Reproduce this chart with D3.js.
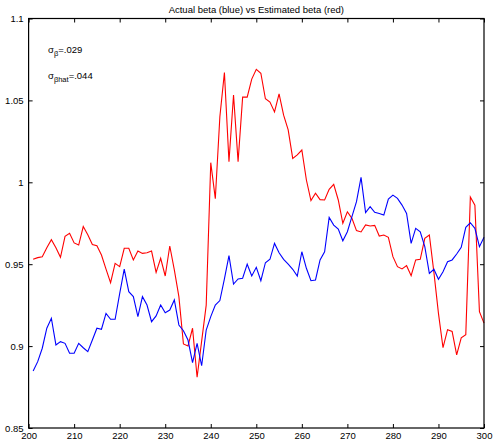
<!DOCTYPE html>
<html>
<head>
<meta charset="utf-8">
<script src="https://cdn.jsdelivr.net/npm/d3@7"></script>
<style>
  body { margin: 0; background: #fff; }
  svg text { font-family: "Liberation Sans", Arial, sans-serif; }
</style>
</head>
<body>
<svg id="chart" width="494" height="440"></svg>
<script>
var periods = d3.range(201, 301);

var actualBeta = [
  .8848, .8905, .8987, .9109, .917, .9007, .9027, .9017, .8956, .8956,
  .9017, .899, .8966, .9037, .9109, .9103, .920, .9164, .9164, .932,
  .947, .9332, .9302, .918, .9302, .9251, .9149, .9184, .9251, .9204,
  .922, .9282, .9129, .9094, .9037, .8899, .9017, .888, .9098, .918,
  .9251, .9278, .941, .9552, .9379, .941, .9414, .950, .9428, .9481,
  .9399, .9509, .953, .9627, .957, .953, .9501, .9469, .9428, .9576,
  .9475, .9399, .9404, .9526, .9576, .9786, .9739, .9715, .9643, .9698,
  .979, .9882, 1.003, .9815, .9851, .9817, .981, .980, .9898, .9922,
  .9902, .9861, .981, .9627, .9719, .9698, .9607, .9444, .9469, .9408,
  .9454, .9515, .9526, .9562, .9603, .9725, .9753, .9719, .9607, .9664
];

var estimatedBeta = [
  .953, .954, .9546, .960, .965, .960, .9542, .967, .9689, .963,
  .9617, .973, .968, .962, .9613, .9556, .947, .9387, .9505, .9485,
  .9597, .9597, .9526, .9581, .9566, .957, .958, .945, .9536, .9428,
  .9611, .9465, .9302, .9013, .9001, .9109, .881, .903, .925, 1.012,
  .990, 1.040, 1.067, 1.0126, 1.0533, 1.0126, 1.052, 1.052, 1.063, 1.069,
  1.0666, 1.051, 1.049, 1.043, 1.054, 1.041, 1.032, 1.0146, 1.0167, 1.0197,
  1.0014, .9888, .9933, .9894, .9892, .9957, .9988, .9892, .975, .982,
  .978, .9705, .9697, .974, .9733, .9737, .9672, .9678, .9664, .9546,
  .9485, .9471, .9491, .943, .9526, .953, .9658, .9678, .945, .920,
  .899, .910, .909, .8946, .905, .907, .991, .986, .921, .914
];

var xTicks = d3.range(200, 301, 10);
var yTicks = [0.85, 0.9, 0.95, 1, 1.05, 1.1];
var title = "Actual beta (blue) vs Estimated beta (red)";

var margin = {top: 18.5, right: 10, bottom: 12, left: 28.6},
  width = 484 - margin.left,
  height = 428 - margin.top;

var x = d3.scaleLinear().domain([200, 300]).range([0, width]);
var y = d3.scaleLinear().domain([0.85, 1.1]).range([height, 0]);

var svg = d3.select("#chart");
var g = svg.append("g")
  .attr("transform", "translate(" + margin.left + "," + margin.top + ")");

var line = d3.line()
  .x((d, i) => x(periods[i]))
  .y(d => y(d));

g.append("path")
  .datum(estimatedBeta)
  .attr("fill", "none")
  .attr("stroke", "#ff0000")
  .attr("stroke-width", 1.1)
  .attr("d", line);

g.append("path")
  .datum(actualBeta)
  .attr("fill", "none")
  .attr("stroke", "#0000ff")
  .attr("stroke-width", 1.1)
  .attr("d", line);

// axes, ticks pointing inward on all four sides
function styleAxis(sel) {
  sel.select(".domain").remove();
  sel.selectAll(".tick line").attr("stroke", "#000");
  sel.selectAll(".tick text").attr("font-size", "9.5px").attr("fill", "#000");
}

g.append("g")
  .attr("transform", "translate(0," + height + ")")
  .call(d3.axisBottom(x).tickValues(xTicks).tickSizeInner(-4).tickSizeOuter(0).tickPadding(4).tickFormat(d3.format("d")))
  .call(styleAxis);

g.append("g")
  .call(d3.axisTop(x).tickValues(xTicks).tickSizeInner(-4).tickSizeOuter(0).tickFormat(""))
  .call(styleAxis);

g.append("g")
  .call(d3.axisLeft(y).tickValues(yTicks).tickSizeInner(-4).tickSizeOuter(0).tickPadding(5).tickFormat(d3.format("~g")))
  .call(styleAxis);

g.append("g")
  .attr("transform", "translate(" + width + ",0)")
  .call(d3.axisRight(y).tickValues(yTicks).tickSizeInner(-4).tickSizeOuter(0).tickFormat(""))
  .call(styleAxis);

g.append("rect")
  .attr("width", width)
  .attr("height", height)
  .attr("fill", "none")
  .attr("stroke", "#000")
  .attr("stroke-width", 1.2);

svg.append("text")
  .attr("x", margin.left + width / 2)
  .attr("y", 13)
  .attr("text-anchor", "middle")
  .attr("font-size", "9.5px")
  .text(title);

// sigma annotations
var notes = [
  {sub: "\u03b2", val: "=.029", y: 53},
  {sub: "\u03b2hat", val: "=.044", y: 79}
];
notes.forEach(n => {
  var t = svg.append("text")
    .attr("x", 48)
    .attr("y", n.y)
    .attr("font-size", "9.5px");
  t.append("tspan").text("\u03c3");
  t.append("tspan").attr("dy", 3).attr("font-size", "7.5px").text(n.sub);
  t.append("tspan").attr("dy", -3).text(n.val);
});
</script>
</body>
</html>
